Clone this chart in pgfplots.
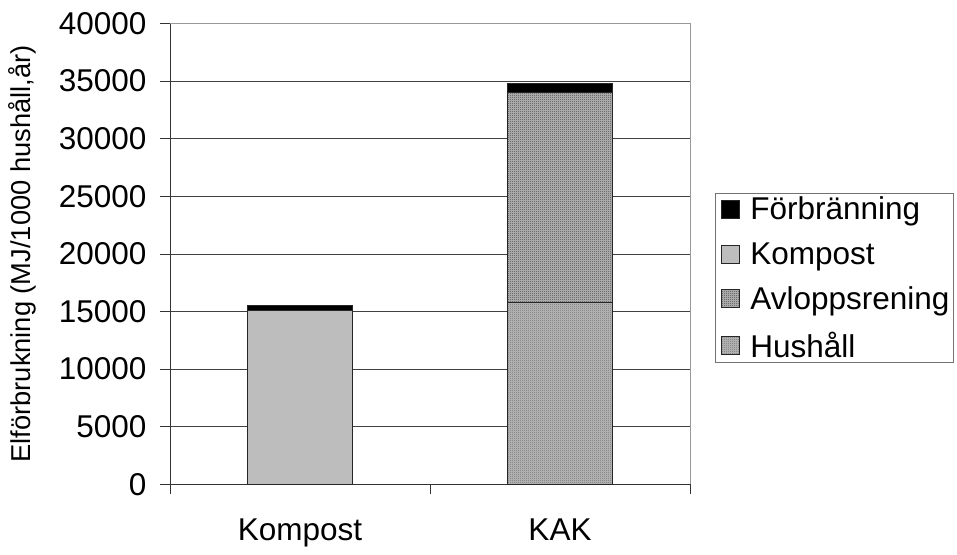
\documentclass[border=0pt]{standalone}
\usepackage{fontspec}
\setmainfont{Liberation Sans}
\usepackage{pgfplots}
\usepackage{pgfplotstable}
\pgfplotsset{compat=1.18}
\usetikzlibrary{patterns}

% fine checkerboard used for the textured segments
\pgfdeclarepatternformonly{finechecker}{\pgfpointorigin}{\pgfpoint{2pt}{2pt}}{\pgfpoint{2pt}{2pt}}{%
  \pgfpathrectangle{\pgfpointorigin}{\pgfpoint{1pt}{1pt}}%
  \pgfpathrectangle{\pgfpoint{1pt}{1pt}}{\pgfpoint{1pt}{1pt}}%
  \pgfusepath{fill}}

% electricity use per scenario, MJ per 1000 households and year
\pgfplotstableread{
x   Hushall Avlopp Kompost Forbr
0.5 0       0      15100   450
1.5 15800   18250  0       750
}\eldata

\begin{document}
\begin{tikzpicture}
\path[use as bounding box] (0,0) rectangle (957pt,554pt);
\begin{axis}[
  at={(170pt,69.7pt)}, anchor=south west,
  scale only axis, width=520pt, height=460.8pt,
  xmin=0, xmax=2, ymin=0, ymax=40000, enlargelimits=false,
  ybar stacked, bar width=105pt,
  axis x line*=bottom, axis y line*=left,
  axis line style={black!80, line width=0.8pt, -},
  xtick={0,1,2}, xticklabels={},
  extra x ticks={0.5,1.5}, extra x tick labels={Kompost,KAK},
  extra x tick style={major tick length=0pt, xticklabel style={yshift=-31pt}},
  ytick={0,5000,...,40000}, ymajorgrids,
  grid style={black!75, line width=0.8pt},
  tick align=outside, major tick length=10pt,
  tick style={black!80, line width=0.8pt},
  scaled y ticks=false,
  /pgf/number format/1000 sep={},
  /pgf/number format/assume math mode=true,
  ticklabel style={font=\fontsize{31.5}{36}\selectfont},
  yticklabel style={xshift=-10pt},
  ylabel={Elförbrukning (MJ/1000 hushåll,år)},
  every axis y label/.style={at={(rel axis cs:0,0.5)}, rotate=90, anchor=center, yshift=148pt,
    font=\fontsize{27.3}{32}\selectfont},
  every axis plot/.append style={draw=black!85, line width=0.9pt},
  reverse legend,
  legend style={at={(1,0.5)}, anchor=west, xshift=25pt, yshift=-24pt,
    draw=black!55, line width=0.8pt, font=\fontsize{31.5}{36}\selectfont,
    row sep=17pt, inner xsep=2pt, inner ysep=2pt, cells={anchor=west}},
  legend image code/.code={
    % widen the image cell without drawing anything
    \pgfpathmoveto{\pgfpoint{-4pt}{0pt}}\pgfpathlineto{\pgfpoint{27pt}{0pt}}\pgfusepath{}
    \draw[#1, line width=0.8pt] (0pt,-9pt) rectangle (18pt,9pt);},
  after end axis/.code={
    \draw[black!40, line width=0.8pt] (rel axis cs:0,1) -- (rel axis cs:1,1) -- (rel axis cs:1,0);
  },
]
\addplot[fill=black!28, postaction={pattern=finechecker, pattern color=black!55}]
  table[x=x, y=Hushall] {\eldata};
\addlegendentry{Hushåll}
\addplot[fill=black!28, postaction={pattern=finechecker, pattern color=black!72}]
  table[x=x, y=Avlopp] {\eldata};
\addlegendentry{Avloppsrening}
\addplot[fill=black!26] table[x=x, y=Kompost] {\eldata};
\addlegendentry{Kompost}
\addplot[fill=black] table[x=x, y=Forbr] {\eldata};
\addlegendentry{Förbränning}
\end{axis}
\end{tikzpicture}
\end{document}
